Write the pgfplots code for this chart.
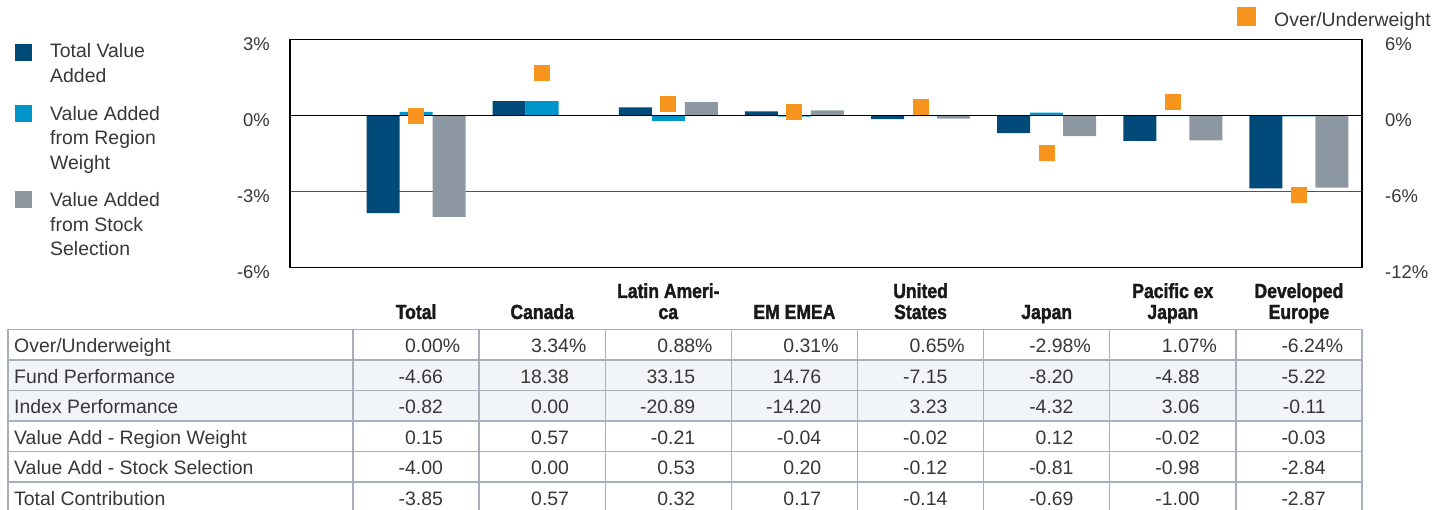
\documentclass[border=0pt]{standalone}
\usepackage{pgfplots}
\pgfplotsset{compat=1.18}
\usepackage{pgfplotstable}
\usepackage{fontspec}
\setmainfont{Liberation Sans}
\newfontfamily\hdrfont[FakeStretch=0.86,FakeBold=1.6]{Liberation Sans Bold}
\definecolor{dblue}{RGB}{0,74,122}
\definecolor{lblue}{RGB}{0,150,204}
\definecolor{sgray}{RGB}{142,152,163}
\definecolor{orng}{RGB}{247,148,29}
\definecolor{txt}{RGB}{55,55,55}
\definecolor{tline}{RGB}{168,175,188}
\definecolor{tfill}{RGB}{241,245,248}
\definecolor{gline}{RGB}{85,85,85}

\pgfplotstableread{
x tot reg stock ow
0 -3.85 0.15 -4.00 0.00
1 0.57 0.57 0.00 3.34
2 0.32 -0.21 0.53 0.88
3 0.17 -0.04 0.20 0.31
4 -0.14 -0.02 -0.12 0.65
5 -0.69 0.12 -0.81 -2.98
6 -1.00 -0.02 -0.98 1.07
7 -2.87 -0.03 -2.84 -6.24
}\datatable

\begin{document}
\begin{tikzpicture}
\useasboundingbox (0,0) rectangle (1450bp,510bp);
\begin{axis}[
  at={(290bp,242.3bp)}, anchor=south west,
  scale only axis, width=1072bp, height=228.2bp,
  xmin=-1, xmax=7.5, ymin=-6, ymax=3,
  xtick=\empty, ytick={-6,-3,0,3},
  /pgf/number format/assume math mode=true,
  yticklabel={\pgfmathprintnumber{\tick}\%},
  yticklabel style={font=\fontsize{18.5}{20}\selectfont, text=txt, anchor=east, inner sep=0pt, xshift=-20bp, yshift=-4.5bp},
  tick style={draw=none},
  axis line style={black, line width=1.3bp},
  ymajorgrids=true,
  major grid style={gline, line width=1.3bp},
  ybar, bar width=33bp,
  clip=false,
]
\addplot[fill=dblue, draw=none, bar shift=-33bp] table[x=x,y=tot]{\datatable};
\addplot[fill=lblue, draw=none, bar shift=0bp] table[x=x,y=reg]{\datatable};
\addplot[fill=sgray, draw=none, bar shift=33bp] table[x=x,y=stock]{\datatable};
\draw[black, line width=1.3bp] (axis cs:-1,0) -- (axis cs:7.5,0);
\end{axis}
\begin{axis}[
  at={(290bp,242.3bp)}, anchor=south west,
  scale only axis, width=1072bp, height=228.2bp,
  xmin=-1, xmax=7.5, ymin=-12, ymax=6,
  axis y line*=right, axis x line=none,
  ytick={-12,-6,0,6},
  /pgf/number format/assume math mode=true,
  yticklabel={\pgfmathprintnumber{\tick}\%},
  yticklabel style={font=\fontsize{18.5}{20}\selectfont, text=txt, anchor=west, inner sep=0pt, xshift=23bp, yshift=-4.5bp},
  tick style={draw=none},
  axis line style={black, line width=1.3bp},
  clip=false,
]
\addplot[only marks, mark=square*, mark size=7.5bp, mark options={fill=orng, draw=orng, line width=0pt}] table[x=x,y=ow]{\datatable};
\end{axis}
\begin{scope}[x=1bp,y=-1bp,yshift=510bp]
  % legend left
  \fill[dblue] (15,44) rectangle (32,61);
  \fill[lblue] (15,105) rectangle (32,122);
  \fill[sgray] (15,191) rectangle (32,208);
  \foreach \yy/\tt in {58/Total Value, 82.5/Added, 120.5/Value Added, 145/from Region, 169.5/Weight, 207/Value Added, 231.5/from Stock, 256/Selection}
    \node[anchor=base west, inner sep=0pt, font=\fontsize{19.5}{22}\selectfont, text=txt] at (50,\yy) {\tt};
  % legend right
  \fill[orng] (1237,7.5) rectangle (1256,26.5);
  \node[anchor=base west, inner sep=0pt, font=\fontsize{19.5}{22}\selectfont, text=txt] at (1274,27) {Over/Underweight};
  % column headers
  \foreach \c/\la/\lb in {0/{}/Total, 1/{}/Canada, 2/{Latin Ameri-}/ca, 3/{}/EM EMEA, 4/United/States, 5/{}/Japan, 6/{Pacific ex}/Japan, 7/Developed/Europe} {
    \node[anchor=base, inner sep=0pt, font=\hdrfont\fontsize{20.5}{22}\selectfont, text=black!90] at ({416.06+126.125*\c},298) {\la};
    \node[anchor=base, inner sep=0pt, font=\hdrfont\fontsize{20.5}{22}\selectfont, text=black!90] at ({416.06+126.125*\c},319) {\lb};
  }
  % table
  \fill[tfill] (8,360) rectangle (1362,421);
  \foreach \yy in {329.5,360,390.5,421,451.5,482,512.5}
    \draw[tline, line width=1.3bp] (8,\yy) -- (1362,\yy);
  \foreach \xx in {8,353,479.125,605.25,731.375,857.5,983.625,1109.75,1235.875,1362}
    \draw[tline, line width=1.3bp] (\xx,329.5) -- (\xx,512.5);
  \foreach \lab [count=\r] in {Over/Underweight, Fund Performance, Index Performance, Value Add - Region Weight, Value Add - Stock Selection, Total Contribution}
    \node[anchor=base west, inner sep=0pt, font=\fontsize{19.5}{22}\selectfont, text=txt] at (14,{329.5+30.5*(\r-1)+23.5}) {\lab};
  \foreach \row [count=\r] in {
    {0.00,3.34,0.88,0.31,0.65,-2.98,1.07,-6.24},
    {-4.66,18.38,33.15,14.76,-7.15,-8.20,-4.88,-5.22},
    {-0.82,0.00,-20.89,-14.20,3.23,-4.32,3.06,-0.11},
    {0.15,0.57,-0.21,-0.04,-0.02,0.12,-0.02,-0.03},
    {-4.00,0.00,0.53,0.20,-0.12,-0.81,-0.98,-2.84},
    {-3.85,0.57,0.32,0.17,-0.14,-0.69,-1.00,-2.87}} {
    \foreach \v [count=\c] in \row {
      \node[anchor=base east, inner sep=0pt, font=\fontsize{19.5}{22}\selectfont, text=txt] at ({353+126.125*\c-36},{329.5+30.5*(\r-1)+23.5}) {\v\ifnum\r=1\rlap{\%}\fi};
    }
  }
\end{scope}
\end{tikzpicture}
\end{document}
